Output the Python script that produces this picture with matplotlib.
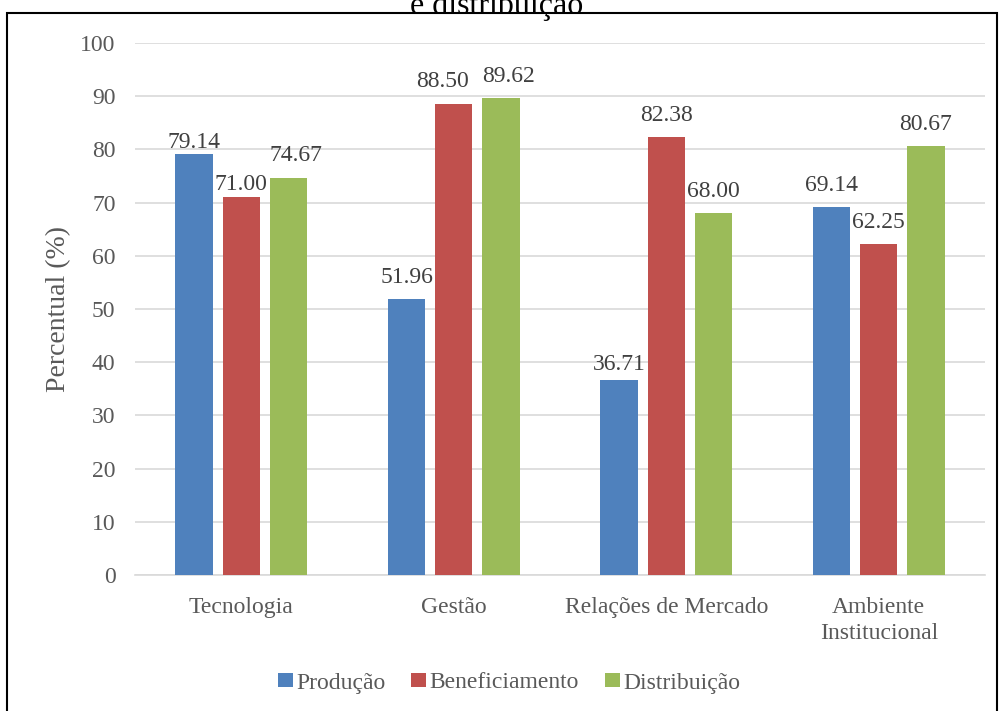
import matplotlib.pyplot as plt
import numpy as np
from matplotlib.patches import Rectangle

categorias = ["Tecnologia", "Gestão", "Relações de Mercado", "Ambiente\nInstitucional"]
series = ["Produção", "Beneficiamento", "Distribuição"]
producao = [79.14, 51.96, 36.71, 69.14]
beneficiamento = [71.00, 88.50, 82.38, 62.25]
distribuicao = [74.67, 89.62, 68.00, 80.67]
cores = ["#4F81BD", "#C0504D", "#9BBB59"]

# deslocamento dos rótulos (dx, dy) em pixels, como ajustados à mão no original
desloc = [
    [(0, 6), (0, 16), (0, 10), (0, 16)],
    [(0, 7), (-11, 17), (0, 16), (0, 16)],
    [(8, 17), (8, 16), (0, 16), (0, 16)],
]

plt.rcParams["font.family"] = ["Liberation Serif", "DejaVu Serif"]

fig = plt.figure(figsize=(10, 7.11), dpi=100)
ax = fig.add_axes([0.135, 0.1913, 0.85, 0.7482])

x = np.arange(len(categorias))
w = 0.175
passo = 0.222
for k, (nome, vals) in enumerate(zip(series, [producao, beneficiamento, distribuicao])):
    pos = x + (k - 1) * passo
    barras = ax.bar(pos, vals, w, color=cores[k], label=nome, zorder=3)
    for b, v, (dx, dy) in zip(barras, vals, desloc[k]):
        ax.annotate(f"{v:.2f}", (b.get_x() + b.get_width() / 2, v),
                    xytext=(dx * 0.72, dy * 0.72), textcoords="offset points",
                    ha="center", va="baseline", fontsize=17, color="#404040")

ax.set_ylim(0, 100)
ax.set_xlim(-0.5, 3.5)
ax.set_yticks(range(0, 101, 10))
ax.yaxis.grid(True, color="#D9D9D9", linewidth=1.2, zorder=0)
for s in ["top", "right", "left"]:
    ax.spines[s].set_visible(False)
ax.spines["bottom"].set_color("#D9D9D9")
ax.spines["bottom"].set_linewidth(1.2)
ax.tick_params(axis="both", length=0, labelsize=17, colors="#595959")
ax.tick_params(axis="y", pad=14)
ax.tick_params(axis="x", pad=16)
ax.set_xticks(x)
ax.set_xticklabels(categorias, linespacing=1.3)
ax.set_ylabel("Percentual (%)", fontsize=20, color="#595959")
ax.yaxis.set_label_coords(-0.075, 0.5)

leg = fig.legend(loc="center", bbox_to_anchor=(0.509, 1 - 683 / 711), ncol=3,
                 frameon=False, fontsize=17, handlelength=0.64, handleheight=0.5,
                 handletextpad=0.13, columnspacing=1.1)
for t in leg.get_texts():
    t.set_color("#595959")

fig.text(0.497, 1 - 14 / 711, "e distribuição", ha="center", va="baseline", fontsize=23, color="black")

fig.patches.append(Rectangle((0.007, -0.05), 0.99, 1.05 - 13 / 711, transform=fig.transFigure,
                             fill=False, edgecolor="black", linewidth=1.5))

fig.savefig("out.png", dpi=100)
